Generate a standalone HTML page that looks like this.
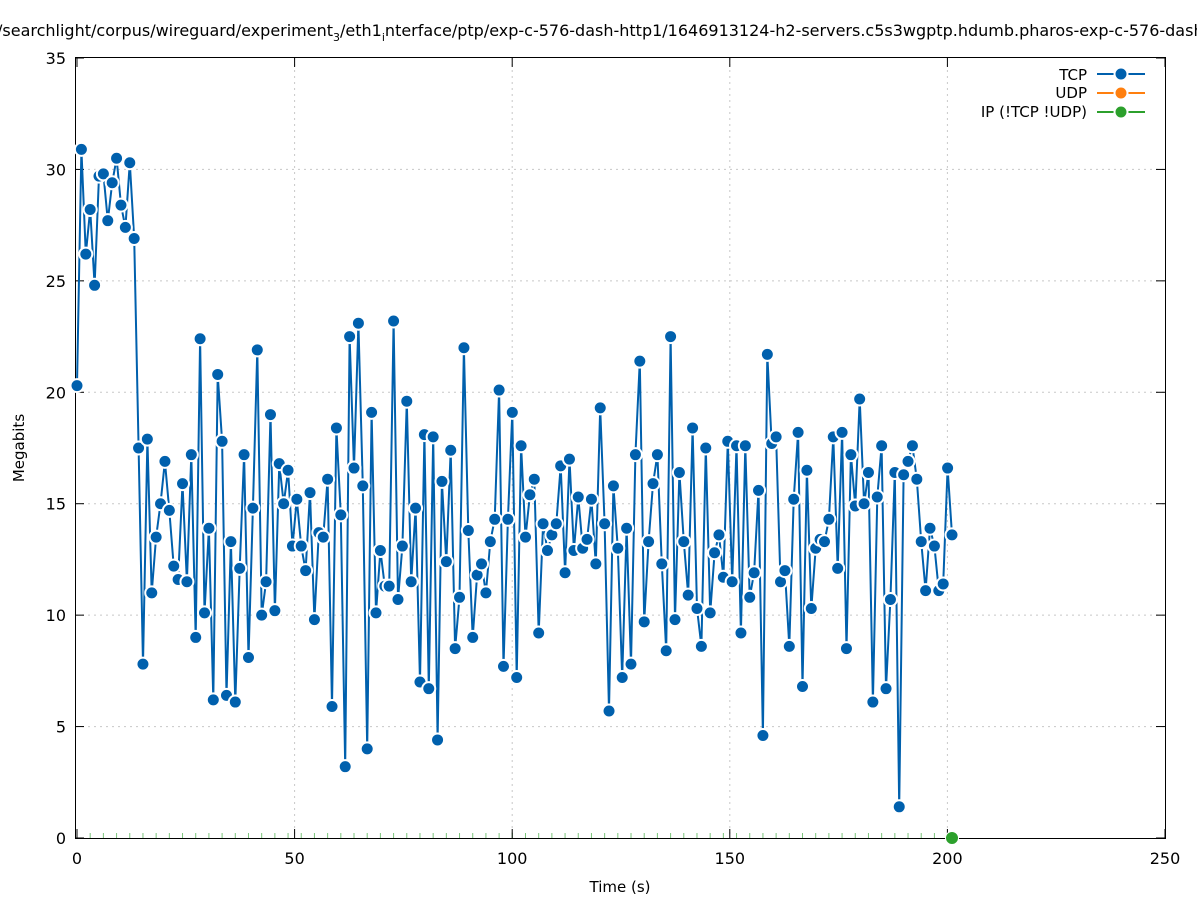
<!DOCTYPE html>
<html><head><meta charset="utf-8"><style>
html,body{margin:0;padding:0;background:#fff;}
svg{display:block;font-family:"DejaVu Sans","Liberation Sans",sans-serif;}
</style></head><body>
<svg id="s" width="1197" height="900" viewBox="0 0 1197 900" xmlns="http://www.w3.org/2000/svg">
<rect width="1197" height="900" fill="#fff"/>
<g id="grid" stroke="#c8c8c8" stroke-width="1" stroke-dasharray="2,4"></g>
<g id="ip"></g>
<rect x="75.5" y="57.5" width="1090" height="781" fill="none" stroke="#000" stroke-width="1"/>
<g id="ticks" stroke="#000" stroke-width="1"></g>
<g id="labels" font-size="16" fill="#000"></g>
<text x="-3" y="36" font-size="16">/searchlight/corpus/wireguard/experiment<tspan font-size="11" dy="5">3</tspan><tspan dy="-5">/eth1</tspan><tspan font-size="11" dy="5">i</tspan><tspan dy="-5">nterface/ptp/exp-c-576-dash-http1/1646913124-h2-servers.c5s3wgptp.hdumb.pharos-exp-c-576-dash</tspan></text>
<text x="620" y="892" font-size="15" text-anchor="middle">Time (s)</text>
<text transform="translate(24,448) rotate(-90)" font-size="15" text-anchor="middle">Megabits</text>
<g id="tcp"></g>
<g id="ipp"></g>
<g font-size="15" text-anchor="end">
<text x="1087" y="80">TCP</text>
<text x="1087" y="98">UDP</text>
<text x="1087" y="117">IP (!TCP  !UDP)</text>
</g>
<line x1="1097" y1="74" x2="1145" y2="74" stroke="#0060ad" stroke-width="2"/>
<circle cx="1121" cy="74" r="6.5" fill="#0060ad" stroke="#fff" stroke-width="2"/>
<line x1="1097" y1="93" x2="1145" y2="93" stroke="#ff7f0e" stroke-width="2"/>
<circle cx="1121" cy="93" r="6.5" fill="#ff7f0e" stroke="#fff" stroke-width="2"/>
<line x1="1097" y1="112" x2="1145" y2="112" stroke="#2ca02c" stroke-width="2"/>
<circle cx="1121" cy="112" r="6.5" fill="#2ca02c" stroke="#fff" stroke-width="2"/>
</svg>
<script>
const NS="http://www.w3.org/2000/svg";
function el(p,t,a,txt){const e=document.createElementNS(NS,t);for(const k in a)e.setAttribute(k,a[k]);if(txt!==undefined)e.textContent=txt;p.appendChild(e);return e;}
const X=v=>77+v*4.352, Y=v=>838-v*22.286;
const g=document.getElementById('grid'),tk=document.getElementById('ticks'),lb=document.getElementById('labels');
for(let v=0;v<=35;v+=5){const y=Y(v);if(v>0&&v<35)el(g,'line',{x1:76,y1:y,x2:1165,y2:y});
el(tk,'line',{x1:75,y1:y,x2:84,y2:y});el(tk,'line',{x1:1165,y1:y,x2:1156,y2:y});
el(lb,'text',{x:66,y:y+6,'text-anchor':'end'},v);}
for(let v=0;v<=250;v+=50){const x=X(v);if(v>0&&v<250)el(g,'line',{x1:x,y1:58,x2:x,y2:838});
el(tk,'line',{x1:x,y1:838,x2:x,y2:829});el(tk,'line',{x1:x,y1:58,x2:x,y2:67});
el(lb,'text',{x:x,y:864,'text-anchor':'middle'},v);}
const d=[20.3,30.9,26.2,28.2,24.8,29.7,29.8,27.7,29.4,30.5,28.4,27.4,30.3,26.9,17.5,7.8,17.9,11.0,13.5,15.0,16.9,14.7,12.2,11.6,15.9,11.5,17.2,9.0,22.4,10.1,13.9,6.2,20.8,17.8,6.4,13.3,6.1,12.1,17.2,8.1,14.8,21.9,10.0,11.5,19.0,10.2,16.8,15.0,16.5,13.1,15.2,13.1,12.0,15.5,9.8,13.7,13.5,16.1,5.9,18.4,14.5,3.2,22.5,16.6,23.1,15.8,4.0,19.1,10.1,12.9,11.3,11.3,23.2,10.7,13.1,19.6,11.5,14.8,7.0,18.1,6.7,18.0,4.4,16.0,12.4,17.4,8.5,10.8,22.0,13.8,9.0,11.8,12.3,11.0,13.3,14.3,20.1,7.7,14.3,19.1,7.2,17.6,13.5,15.4,16.1,9.2,14.1,12.9,13.6,14.1,16.7,11.9,17.0,12.9,15.3,13.0,13.4,15.2,12.3,19.3,14.1,5.7,15.8,13.0,7.2,13.9,7.8,17.2,21.4,9.7,13.3,15.9,17.2,12.3,8.4,22.5,9.8,16.4,13.3,10.9,18.4,10.3,8.6,17.5,10.1,12.8,13.6,11.7,17.8,11.5,17.6,9.2,17.6,10.8,11.9,15.6,4.6,21.7,17.7,18.0,11.5,12.0,8.6,15.2,18.2,6.8,16.5,10.3,13.0,13.4,13.3,14.3,18.0,12.1,18.2,8.5,17.2,14.9,19.7,15.0,16.4,6.1,15.3,17.6,6.7,10.7,16.4,1.4,16.3,16.9,17.6,16.1,13.3,11.1,13.9,13.1,11.1,11.4,16.6,13.6];
const n=d.length, st=(952-77)/(n-1);
const pts=d.map((v,i)=>[77+i*st,Y(v)]);
const ip=document.getElementById('ip');
for(let i=0;i<n;i+=3)el(ip,'line',{x1:77+i*st,y1:833,x2:77+i*st,y2:838,stroke:'#7cc47c','stroke-width':1});
const t=document.getElementById('tcp');
el(t,'polyline',{points:pts.map(p=>p[0].toFixed(1)+','+p[1].toFixed(1)).join(' '),fill:'none',stroke:'#0060ad','stroke-width':2,'stroke-linejoin':'round'});
pts.forEach(p=>el(t,'circle',{cx:p[0],cy:p[1],r:6.5,fill:'#0060ad',stroke:'#fff','stroke-width':2}));
el(document.getElementById('ipp'),'circle',{cx:952,cy:838,r:6.5,fill:'#2ca02c',stroke:'#fff','stroke-width':1});
</script>
</body></html>
